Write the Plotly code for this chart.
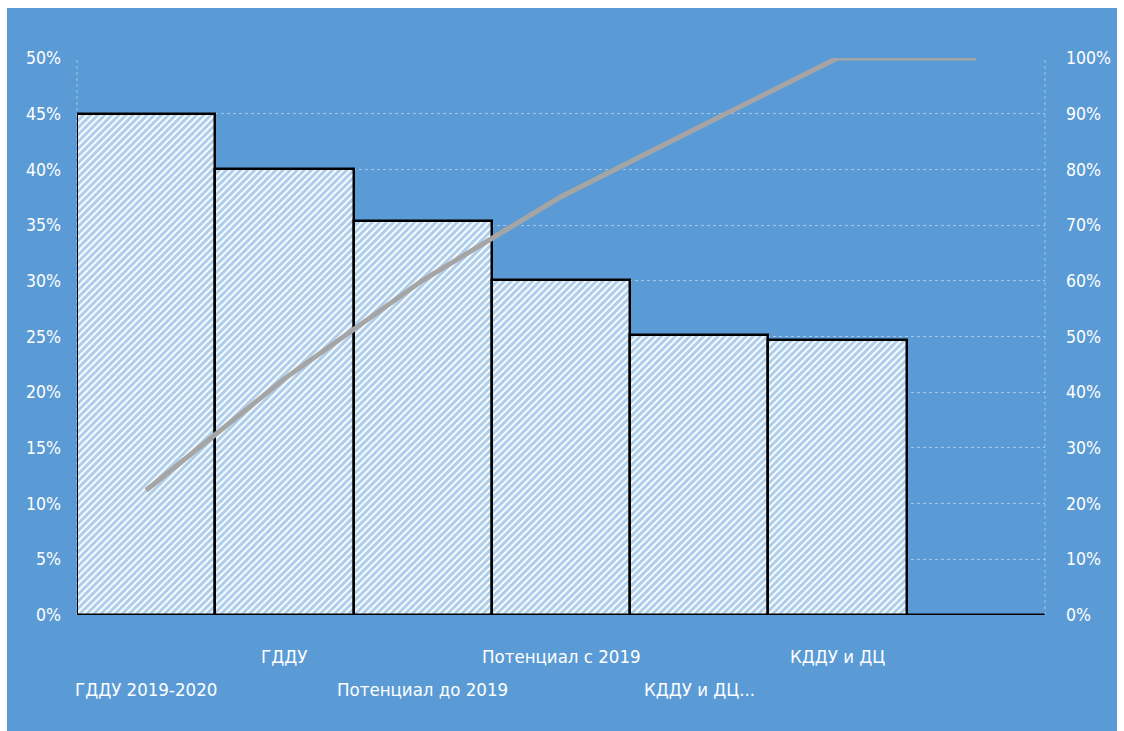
import plotly.graph_objects as go

# Pareto data
labels = ["ГДДУ 2019-2020", "ГДДУ", "Потенциал до 2019", "Потенциал с 2019",
          "КДДУ и ДЦ...", "КДДУ и ДЦ", ""]
shares = [45.0, 40.0, 35.4, 30.1, 25.1, 24.7, 0.0]          # left axis, %
cumulative = [22.4, 42.4, 60.1, 75.1, 87.6, 100.0, 100.0]  # right axis, %
left_ticks = [0, 5, 10, 15, 20, 25, 30, 35, 40, 45, 50]
right_ticks = [0, 10, 20, 30, 40, 50, 60, 70, 80, 90, 100]

W, H = 1124, 731
L, R, T, B = 77, 79, 58, 116
pw, ph = W - L - R, H - T - B

BLUE = "#5B9BD5"
FONT = "DejaVu Sans Condensed, Liberation Sans Narrow, sans-serif"
GRID = "rgba(255,255,255,0.45)"

idx = list(range(len(labels)))

fig = go.Figure()
fig.add_trace(go.Bar(
    x=idx, y=shares, yaxis="y",
    marker=dict(
        color="white",
        line=dict(color="black", width=2.5),
        pattern=dict(shape="/", fgcolor=BLUE, bgcolor="white", size=5, solidity=0.62),
    ),
    width=1.0, showlegend=False, hoverinfo="skip",
))
fig.add_trace(go.Scatter(
    x=idx, y=cumulative, yaxis="y2", mode="lines",
    line=dict(color="#A5A5A5", width=5),
    showlegend=False, hoverinfo="skip",
))

# blue chart area with a thin white border round it
def px_x(p):
    return (p - L) / pw

def px_y(p):
    return (H - B - p) / ph

shapes = [
    dict(type="rect", xref="paper", yref="paper", layer="below",
         x0=px_x(7), x1=px_x(1117), y0=px_y(731), y1=px_y(8),
         fillcolor=BLUE, line=dict(width=0)),
    dict(type="line", xref="paper", yref="paper", layer="below",
         x0=0, x1=0, y0=0, y1=1, line=dict(color=GRID, width=1, dash="3px,3px")),
    dict(type="line", xref="paper", yref="paper", layer="below",
         x0=1, x1=1, y0=0, y1=1, line=dict(color=GRID, width=1, dash="3px,3px")),
]

# staggered category labels, two rows
annotations = []
for i, lab in enumerate(labels):
    if not lab:
        continue
    upper = (i % 2 == 1)
    annotations.append(dict(
        x=i, xref="x", yref="paper",
        y=px_y(656 if upper else 689), yanchor="middle", xanchor="center",
        text=lab, showarrow=False,
        font=dict(family=FONT, size=18.5, color="white"),
    ))

fig.update_layout(
    width=W, height=H,
    margin=dict(l=L, r=R, t=T, b=B),
    paper_bgcolor="white",
    plot_bgcolor="rgba(0,0,0,0)",
    bargap=0,
    shapes=shapes,
    annotations=annotations,
    xaxis=dict(range=[-0.5, len(labels) - 0.5], showticklabels=False,
               showgrid=False, zeroline=False, showline=False, ticks=""),
    yaxis=dict(range=[0, 50], tickvals=left_ticks,
               ticktext=[f"{v}%" for v in left_ticks],
               showgrid=True, gridcolor=GRID, griddash="3px,3px", gridwidth=1,
               zeroline=False, showline=False,
               tickfont=dict(family=FONT, size=17.5, color="white"), ticklabelstandoff=15),
    yaxis2=dict(range=[0, 100], tickvals=right_ticks,
                ticktext=[f"{v}%" for v in right_ticks],
                overlaying="y", side="right", showgrid=False, zeroline=False,
                showline=False,
                tickfont=dict(family=FONT, size=17.5, color="white"), ticklabelstandoff=20),
)

fig.write_html("out.html")
